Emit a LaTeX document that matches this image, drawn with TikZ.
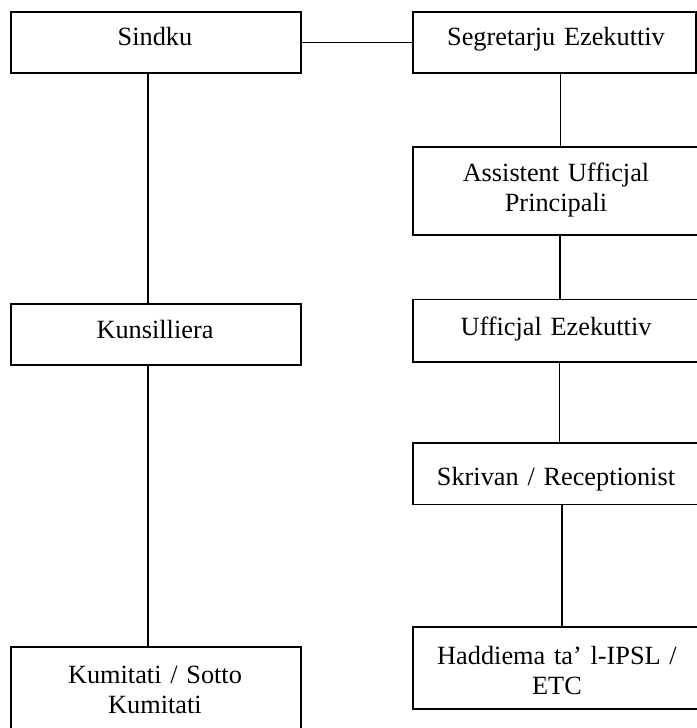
\documentclass[tikz,border=0pt]{standalone}
\usepackage{fontspec}
\setmainfont{Liberation Serif}
\begin{document}
\begin{tikzpicture}[x=1pt,y=-1pt,
  box/.style={draw, line width=1.8pt, inner sep=0pt, anchor=north west},
  lbl/.style={font=\fontsize{26.3}{30}\selectfont, inner sep=0pt, anchor=base, text width=282pt, align=center},
  conn/.style={line width=1.8pt}]
\useasboundingbox (0,0) rectangle (696,728);
% boxes
\node[box, minimum width=290, minimum height=61] (sindku) at (10,11) {};
\node[box, minimum width=283, minimum height=61] (seg) at (412,11) {};
\node[box, minimum width=288, minimum height=88] (asst) at (412,146) {};
\node[box, minimum width=290, minimum height=61] (kuns) at (10,303) {};
\node[box, minimum width=288, minimum height=62.5] (uff) at (412,298.5) {};
\node[box, minimum width=288, minimum height=61.5] (skr) at (412,442) {};
\node[box, minimum width=288, minimum height=82] (had) at (412,626) {};
\node[box, minimum width=290, minimum height=90] (kum) at (10,646) {};
% labels
\node[lbl] (sindkuT) at (155,45) {Sindku};
\node[lbl] (segT) at (556,45) {Segretarju Ezekuttiv};
\node[lbl] (asstT) at (556,181.5) {Assistent Ufficjal\\Principali};
\node[lbl] (kunsT) at (155,338) {Kunsilliera};
\node[lbl] (uffT) at (556,335) {Ufficjal Ezekuttiv};
\node[lbl] (skrT) at (556,485) {Skrivan / Receptionist};
\node[lbl] (hadT) at (557,664) {Haddiema ta’ l-IPSL /\\ETC};
\node[lbl] (kumT) at (155,683.5) {Kumitati / Sotto\\Kumitati};
% connector x positions
\coordinate (lx) at (148,0);
\coordinate (r1) at (560.5,0);
\coordinate (r2) at (560,0);
\coordinate (r3) at (559.5,0);
\coordinate (r4) at (562,0);
% connectors
\draw[conn] (sindku.east) -- (seg.west);
\draw[conn] (sindku.south -| lx) -- (kuns.north -| lx);
\draw[conn] (kuns.south -| lx) -- (kum.north -| lx);
\draw[conn] (seg.south -| r1) -- (asst.north -| r1);
\draw[conn] (asst.south -| r2) -- (uff.north -| r2);
\draw[conn] (uff.south -| r3) -- (skr.north -| r3);
\draw[conn] (skr.south -| r4) -- (had.north -| r4);
\end{tikzpicture}
\end{document}
